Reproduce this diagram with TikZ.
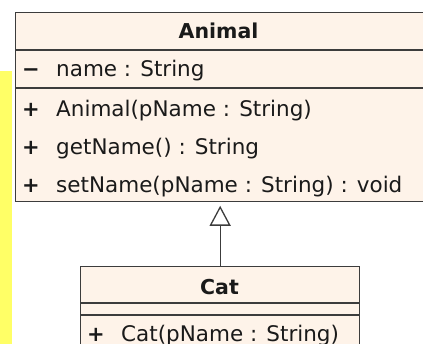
\documentclass[tikz,border=0pt]{standalone}
\usepackage{fontspec}
\setmainfont{DejaVu Sans}
\usetikzlibrary{arrows.meta}
\definecolor{classfill}{HTML}{FEF3E9}
\definecolor{classline}{HTML}{3C3C3C}
\definecolor{noteyellow}{HTML}{FFFF66}
\definecolor{txt}{HTML}{1A1A1A}
\begin{document}
\begin{tikzpicture}[x=1pt,y=-1pt,
  classbox/.style={draw=classline, fill=classfill, line width=1.3pt, rectangle, inner sep=0pt, anchor=north west},
  sepline/.style={draw=classline, line width=1.3pt},
  member/.style={anchor=base west, inner sep=0pt, text=txt, font=\fontsize{21.5}{24}\selectfont},
  vis/.style={anchor=base, inner sep=0pt, text=txt, font=\fontsize{21}{24}\selectfont\bfseries},
  classtitle/.style={anchor=base, inner sep=0pt, text=txt, font=\fontsize{20.5}{24}\selectfont\bfseries},
  gen/.style={draw=classline, line width=1.3pt, shorten >=3.5pt, -{Triangle[open, length=20pt, width=21pt, fill=white]}}]
\useasboundingbox (0,0) rectangle (423,344);
\fill[noteyellow] (0,71) rectangle (12,350);
% Animal class
\node[classbox, minimum width=440pt, minimum height=189pt] (animal) at (15,12) {};
\coordinate (a1w) at (15,50);  \coordinate (a1e) at (460,50);
\coordinate (a2w) at (15,88);  \coordinate (a2e) at (460,88);
\draw[sepline] (a1w) -- (a1e);
\draw[sepline] (a2w) -- (a2e);
\node[classtitle] (atitle) at (218.5,39) {Animal};
\node[vis] (v1) at (31,77) {−};
\node[member] (m1) at (56,77) {name : String};
\node[vis] (v2) at (31,117) {+};
\node[member] (m2) at (56,117) {Animal(pName : String)};
\node[vis] (v3) at (31,155) {+};
\node[member] (m3) at (56,155) {getName() : String};
\node[vis] (v4) at (31,193) {+};
\node[member] (m4) at (56,193) {setName(pName : String) : void};
% Cat class
\node[classbox, minimum width=279pt, minimum height=100pt] (cat) at (80,266) {};
\coordinate (c1w) at (80,303);  \coordinate (c1e) at (359,303);
\coordinate (c2w) at (80,315);  \coordinate (c2e) at (359,315);
\draw[sepline] (c1w) -- (c1e);
\draw[sepline] (c2w) -- (c2e);
\node[classtitle] (ctitle) at (219.5,295) {Cat};
\node[vis] (v5) at (96,342) {+};
\node[member] (m5) at (121,342) {Cat(pName : String)};
% generalization
\draw[gen] (cat.north) -- (cat.north |- animal.south);
\end{tikzpicture}
\end{document}
